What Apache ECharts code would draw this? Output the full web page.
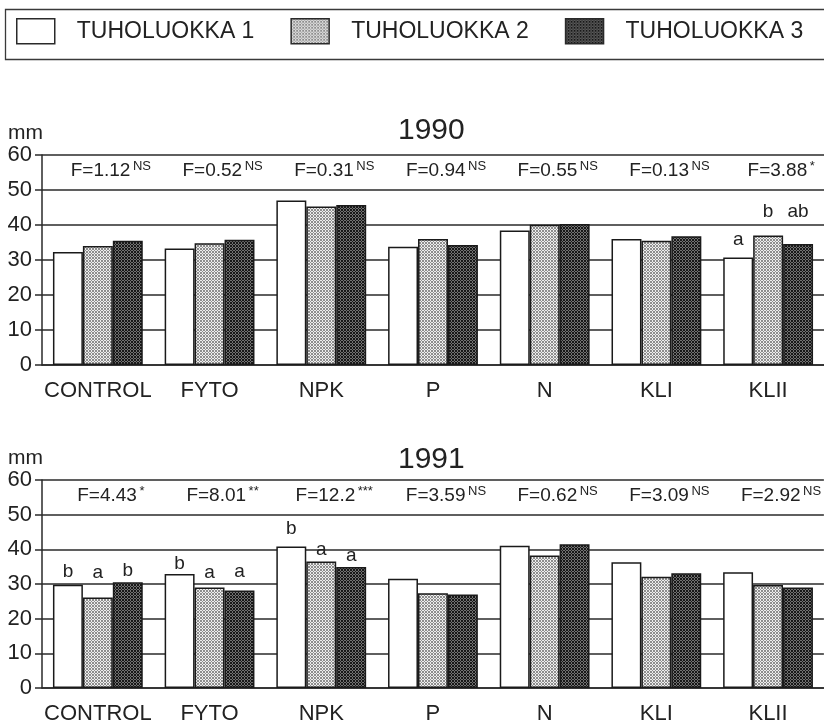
<!DOCTYPE html>
<html>
<head>
<meta charset="utf-8">
<title>TUHOLUOKKA 1990–1991</title>
<script src="https://cdn.jsdelivr.net/npm/echarts@6/dist/echarts.min.js"></script>
<style>
  html, body { margin: 0; padding: 0; background: #ffffff; }
  #chart { width: 824px; height: 725px; }
</style>
</head>
<body>
<div id="chart"></div>
<script>
// Treatments on the category axis
const categories = ['CONTROL', 'FYTO', 'NPK', 'P', 'N', 'KLI', 'KLII'];
const seriesNames = ['TUHOLUOKKA 1', 'TUHOLUOKKA 2', 'TUHOLUOKKA 3'];
const yTicks = [0, 10, 20, 30, 40, 50, 60];

// Growth (mm) by damage class, 1990
const y1990Class1 = [32.3, 33.3, 47.0, 33.8, 38.4, 36.0, 30.7];
const y1990Class2 = [34.0, 34.8, 45.3, 36.0, 40.1, 35.5, 37.0];
const y1990Class3 = [35.5, 35.8, 45.7, 34.3, 40.3, 36.8, 34.6];

// Growth (mm) by damage class, 1991
const y1991Class1 = [29.8, 32.9, 40.8, 31.5, 41.0, 36.3, 33.4];
const y1991Class2 = [26.1, 29.0, 36.5, 27.3, 38.2, 32.1, 29.7];
const y1991Class3 = [30.5, 28.1, 34.9, 27.0, 41.5, 33.1, 29.0];

// ANOVA F values and significance marks
const f1990 = ['F=1.12', 'F=0.52', 'F=0.31', 'F=0.94', 'F=0.55', 'F=0.13', 'F=3.88'];
const sig1990 = ['NS', 'NS', 'NS', 'NS', 'NS', 'NS', '*'];
const f1991 = ['F=4.43', 'F=8.01', 'F=12.2', 'F=3.59', 'F=0.62', 'F=3.09', 'F=2.92'];
const sig1991 = ['*', '**', '***', 'NS', 'NS', 'NS', 'NS'];

// Multiple-comparison letters per bar
const letters1990 = [
  ['', '', '', '', '', '', 'a'],
  ['', '', '', '', '', '', 'b'],
  ['', '', '', '', '', '', 'ab']
];
const letters1991 = [
  ['b', 'b', 'b', '', '', '', ''],
  ['a', 'a', 'a', '', '', '', ''],
  ['b', 'a', 'a', '', '', '', '']
];

// Label lift above the bar top (style only)
const lift1990 = [
  [0, 0, 0, 0, 0, 0, 8],
  [0, 0, 0, 0, 0, 0, 14],
  [0, 0, 0, 0, 0, 0, 23]
];
const lift1991 = [
  [3, 1, 8, 0, 0, 0, 0],
  [15, 5, 2, 0, 0, 0, 0],
  [2, 9, 2, 0, 0, 0, 0]
];

const FONT = '"Liberation Sans", Arial, Helvetica, sans-serif';
const INK = '#222222';
const LINE = '#2a2a2a';

// Stippled fills made from tiny canvas tiles
function makeTile(bg, dot) {
  const c = document.createElement('canvas');
  c.width = 3; c.height = 3;
  const g = c.getContext('2d');
  g.fillStyle = bg; g.fillRect(0, 0, 3, 3);
  g.fillStyle = dot;
  g.fillRect(0, 0, 1, 1);
  g.fillRect(1, 1, 1, 1);
  g.fillRect(2, 2, 1, 1);
  g.fillRect(2, 0, 1, 1);
  g.fillRect(0, 2, 1, 1);
  return c;
}
const fills = [
  '#ffffff',
  { image: makeTile('#eeeeee', '#8e8e8e'), repeat: 'repeat' },
  { image: makeTile('#727272', '#181818'), repeat: 'repeat' }
];

const grids = [
  { left: 42, right: -2, top: 155, height: 210 },
  { left: 42, right: -2, top: 480, height: 210 }
];

function catAxis(gridIndex) {
  return {
    type: 'category', gridIndex, data: categories, boundaryGap: true,
    axisLine: { show: true, lineStyle: { color: LINE, width: 1.5 } },
    axisTick: { show: false },
    axisLabel: { color: INK, fontFamily: FONT, fontSize: 22, margin: 15, interval: 0 },
    splitLine: { show: false }
  };
}
function statAxis(gridIndex, fTexts, sigs) {
  return {
    type: 'category', gridIndex, data: categories, position: 'top', boundaryGap: true,
    axisLine: { show: false }, axisTick: { show: false }, splitLine: { show: false },
    axisLabel: {
      inside: true, margin: 5, interval: 0,
      padding: [0, 0, 0, 26],
      formatter: (v, i) => '{f|' + fTexts[i] + '}{g| }{s|' + sigs[i] + '}',
      rich: {
        f: { fontFamily: FONT, fontSize: 19, color: INK, lineHeight: 22 },
        g: { fontFamily: FONT, fontSize: 9, lineHeight: 22 },
        s: { fontFamily: FONT, fontSize: 13, color: INK, lineHeight: 20, verticalAlign: 'top' }
      }
    }
  };
}
function valAxis(gridIndex) {
  return {
    type: 'value', gridIndex, min: 0, max: 60, interval: 10,
    name: 'mm', nameLocation: 'end', nameGap: 22,
    nameTextStyle: { fontFamily: FONT, fontSize: 21, color: INK, align: 'right', verticalAlign: 'middle', padding: [0, -1, 0, 0] },
    axisLine: { show: true, lineStyle: { color: LINE, width: 1.5 } },
    axisTick: { show: true, length: 7, lineStyle: { color: LINE, width: 1.5 } },
    axisLabel: { color: INK, fontFamily: FONT, fontSize: 22, margin: 10, formatter: v => (yTicks.indexOf(v) >= 0 ? String(v) : '') },
    splitLine: { show: true, lineStyle: { color: LINE, width: 1.5 } }
  };
}

function barSeries(k, values, letters, lifts, xi, yi) {
  return {
    name: seriesNames[k], type: 'bar', xAxisIndex: xi, yAxisIndex: yi,
    barGap: '0%', barCategoryGap: '19.6%',
    itemStyle: { color: fills[k], borderColor: '#1a1a1a', borderWidth: 1.5 },
    emphasis: { disabled: true },
    data: values.map((v, i) => ({
      value: v,
      label: {
        show: letters[k][i] !== '', position: 'top', distance: lifts[k][i],
        formatter: letters[k][i], fontFamily: FONT, fontSize: 19, color: INK
      }
    }))
  };
}

const data1990 = [y1990Class1, y1990Class2, y1990Class3];
const data1991 = [y1991Class1, y1991Class2, y1991Class3];

const option = {
  animation: false,
  backgroundColor: '#ffffff',
  textStyle: { fontFamily: FONT },
  title: [
    { text: '1990', left: 398, top: 116, textStyle: { fontFamily: FONT, fontSize: 30, fontWeight: 'normal', color: INK }, padding: 0 },
    { text: '1991', left: 398, top: 445, textStyle: { fontFamily: FONT, fontSize: 30, fontWeight: 'normal', color: INK }, padding: 0 }
  ],
  legend: {
    left: 16, top: 18, padding: 0,
    data: seriesNames, icon: 'rect',
    itemWidth: 38, itemHeight: 25, itemGap: 36,
    itemStyle: { borderColor: '#2a2a2a', borderWidth: 1.5 },
    textStyle: { fontFamily: FONT, fontSize: 23, color: INK, padding: [0, 0, 0, 17] },
    selectedMode: false
  },
  graphic: [{
    type: 'rect', left: 3, top: 7,
    shape: { width: 830, height: 50 },
    style: { fill: 'none', stroke: '#3a3a3a', lineWidth: 1.3 },
    silent: true
  }],
  grid: grids,
  xAxis: [catAxis(0), catAxis(1), statAxis(0, f1990, sig1990), statAxis(1, f1991, sig1991)],
  yAxis: [valAxis(0), valAxis(1)],
  series: [
    ...[0, 1, 2].map(k => barSeries(k, data1990[k], letters1990, lift1990, 0, 0)),
    ...[0, 1, 2].map(k => barSeries(k, data1991[k], letters1991, lift1991, 1, 1))
  ]
};

const chart = echarts.init(document.getElementById('chart'), null, { renderer: 'canvas' });
chart.setOption(option);
</script>
</body>
</html>
